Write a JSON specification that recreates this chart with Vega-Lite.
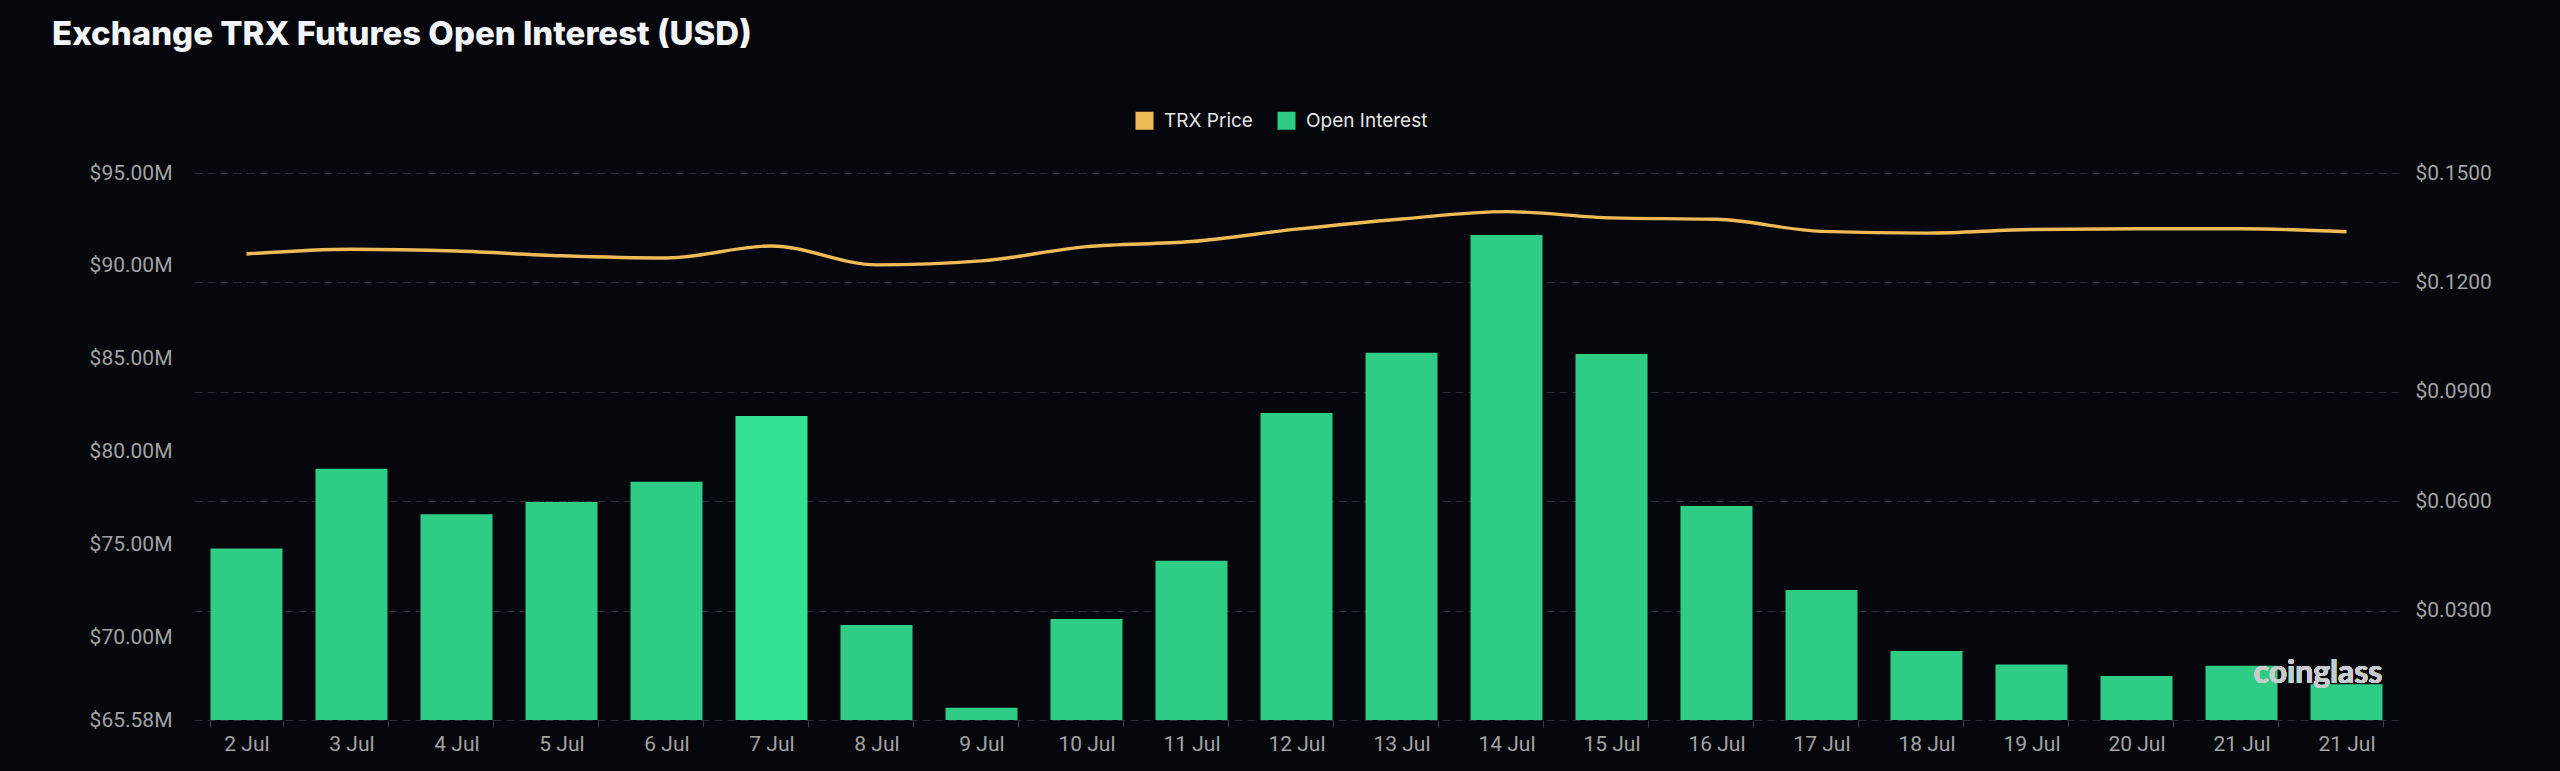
{
  "$schema": "https://vega.github.io/schema/vega-lite/v6.json",
  "width": 2205,
  "height": 547,
  "autosize": {"type": "none"},
  "padding": {"left": 194, "top": 173, "right": 161, "bottom": 51},
  "background": "#05070c",
  "title": {
    "text": "Exchange TRX Futures Open Interest (USD)",
    "anchor": "start",
    "frame": "group",
    "dx": -142,
    "offset": 33,
    "baseline": "alphabetic",
    "font": "Inter",
    "fontSize": 33,
    "fontWeight": 800,
    "color": "#f2f4f7"
  },
  "config": {
    "view": {"stroke": null},
    "axis": {
      "labelFont": "Roboto",
      "labelFontSize": 21,
      "labelColor": "#a3a3a3",
      "domain": false,
      "ticks": false,
      "grid": false,
      "title": null
    }
  },
  "data": {
    "values": [
      {"date": "2 Jul", "oi": 74800000, "price": 0.1278},
      {"date": "3 Jul", "oi": 79100000, "price": 0.1291},
      {"date": "4 Jul", "oi": 76640000, "price": 0.1286},
      {"date": "5 Jul", "oi": 77310000, "price": 0.1273},
      {"date": "6 Jul", "oi": 78400000, "price": 0.1267},
      {"date": "7 Jul", "oi": 81930000, "price": 0.1300},
      {"date": "8 Jul", "oi": 70690000, "price": 0.1248},
      {"date": "9 Jul", "oi": 66240000, "price": 0.1259},
      {"date": "10 Jul", "oi": 71010000, "price": 0.1298},
      {"date": "11 Jul", "oi": 74150000, "price": 0.1312},
      {"date": "12 Jul", "oi": 82090000, "price": 0.1346},
      {"date": "13 Jul", "oi": 85330000, "price": 0.1374},
      {"date": "14 Jul", "oi": 91670000, "price": 0.1394},
      {"date": "15 Jul", "oi": 85260000, "price": 0.1377},
      {"date": "16 Jul", "oi": 77090000, "price": 0.1373},
      {"date": "17 Jul", "oi": 72570000, "price": 0.1340},
      {"date": "18 Jul", "oi": 69290000, "price": 0.1335},
      {"date": "19 Jul", "oi": 68560000, "price": 0.1345},
      {"date": "20 Jul", "oi": 67950000, "price": 0.1347},
      {"date": "21 Jul", "oi": 68500000, "price": 0.1347},
      {"date": "21 Jul#2", "oi": 67500000, "price": 0.1339}
    ]
  },
  "layer": [
    {
      "mark": {"type": "bar"},
      "encoding": {
        "x": {
          "field": "date",
          "type": "nominal",
          "sort": null,
          "scale": {"paddingInner": 0.314, "paddingOuter": 0.157},
          "axis": {
            "labelAngle": 0,
            "labelExpr": "split(datum.label, '#')[0]",
            "ticks": true,
            "tickBand": "extent",
            "tickSize": 7,
            "tickColor": "#3a3d43",
            "labelPadding": 6
          }
        },
        "y": {
          "field": "oi",
          "type": "quantitative",
          "scale": {"domain": [65580000, 95000000], "zero": false, "nice": false},
          "axis": {
            "orient": "left",
            "values": [65580000, 70000000, 75000000, 80000000, 85000000, 90000000, 95000000],
            "labelExpr": "'$' + format(datum.value / 1000000, '.2f') + 'M'",
            "labelPadding": 22
          }
        },
        "y2": {"datum": 65580000},
        "color": {
          "condition": {"test": "datum.date === '7 Jul'", "value": "#34e392"},
          "datum": "Open Interest",
          "type": "nominal",
          "scale": {"domain": ["TRX Price", "Open Interest"], "range": ["#f0bb56", "#2fcc85"]},
          "legend": {
            "orient": "none",
            "legendX": 941,
            "legendY": -62,
            "direction": "horizontal",
            "title": null,
            "symbolType": "square",
            "symbolSize": 324,
            "symbolStrokeWidth": 0,
            "labelFont": "Inter",
            "labelFontSize": 19,
            "labelColor": "#e6e6e6",
            "labelOffset": 10,
            "columnPadding": 24,
            "encode": {
              "symbols": {
                "update": {
                  "fill": {"scale": "color", "field": "value"},
                  "stroke": {"value": "transparent"},
                  "opacity": {"value": 1}
                }
              }
            }
          }
        }
      }
    },
    {
      "mark": {"type": "line", "interpolate": "monotone", "strokeWidth": 3.4},
      "encoding": {
        "x": {"field": "date", "type": "nominal", "sort": null},
        "y": {
          "field": "price",
          "type": "quantitative",
          "scale": {"domain": [0, 0.15], "nice": false, "zero": true},
          "axis": {
            "orient": "right",
            "values": [0, 0.03, 0.06, 0.09, 0.12, 0.15],
            "labelExpr": "datum.value === 0 ? '' : '$' + format(datum.value, '.4f')",
            "labelPadding": 16,
            "grid": true,
            "gridColor": "#2b2e34",
            "gridDash": [8, 5],
            "gridWidth": 1
          }
        },
        "color": {"datum": "TRX Price", "type": "nominal", "legend": null}
      }
    },
    {
      "mark": {
        "type": "text",
        "text": "coinglass",
        "align": "left",
        "baseline": "alphabetic",
        "dx": 12,
        "font": "Lato",
        "fontSize": 32,
        "fontWeight": "bold",
        "color": "#c8ccd0",
        "opacity": 0.85
      },
      "encoding": {
        "x": {"datum": "21 Jul"},
        "y": {"datum": 0.0102, "type": "quantitative", "scale": {"domain": [0, 0.15], "nice": false}, "axis": null}
      }
    }
  ],
  "resolve": {"scale": {"y": "independent"}}
}
